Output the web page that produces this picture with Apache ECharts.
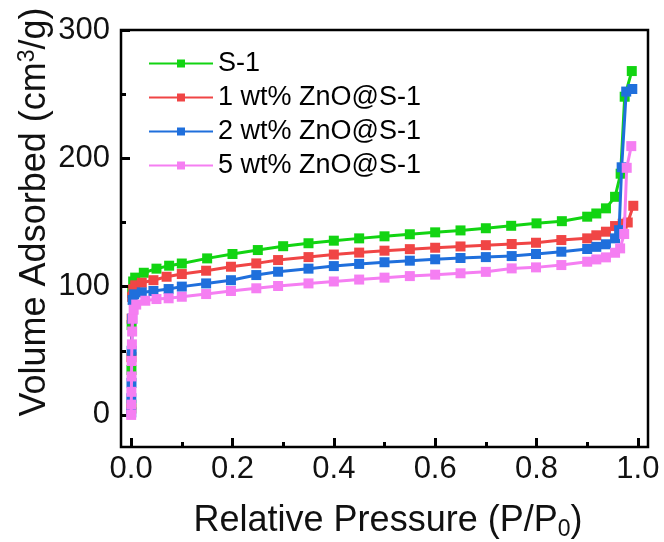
<!DOCTYPE html>
<html>
<head>
<meta charset="utf-8">
<script src="https://cdn.jsdelivr.net/npm/echarts@6/dist/echarts.min.js"></script>
<style>html,body{margin:0;padding:0;background:#fff}#c{width:664px;height:542px}</style>
</head>
<body>
<div id="c"></div>
<script>
const seriesNames = ['S-1', '1 wt% ZnO@S-1', '2 wt% ZnO@S-1', '5 wt% ZnO@S-1'];
const s1P = [0.0003,0.0006,0.001,0.002,0.004,0.008,0.025,0.05,0.075,0.1,0.15,0.2,0.25,0.3,0.35,0.4,0.45,0.5,0.55,0.6,0.65,0.7,0.75,0.8,0.85,0.9,0.918,0.937,0.955,0.966,0.974,0.988];
const s1V = [8,35,70,95,104,107,110.8,114,116.3,118,122,125.4,128.5,131.5,133.8,135.8,137.6,139.2,140.8,142.3,143.8,145.5,147.4,149.3,151,154.5,157,161,170,188,248,268];
const zn1P = [0.0003,0.0006,0.001,0.002,0.004,0.008,0.021,0.044,0.07,0.1,0.148,0.197,0.247,0.29,0.35,0.4,0.45,0.5,0.55,0.6,0.65,0.7,0.751,0.799,0.849,0.9,0.918,0.937,0.955,0.97,0.98,0.991];
const zn1V = [5,45,75,92,98,101,103,105,107.7,109.8,112.4,115.5,118.1,120.7,123,125,126.5,128,129.2,130.3,131.3,132.3,133.2,134.2,136.3,137.6,140,142.8,147.2,149,150,163];
const zn2P = [0.0002,0.0004,0.0007,0.001,0.002,0.003,0.006,0.021,0.044,0.074,0.1,0.148,0.197,0.247,0.29,0.35,0.4,0.45,0.5,0.55,0.6,0.65,0.7,0.751,0.799,0.849,0.9,0.918,0.937,0.955,0.963,0.968,0.977,0.989];
const zn2V = [2,13,25,50,75,89.6,94,95.5,96.6,98.1,100,102.5,105,109,111.6,114,116,117.7,119,120.2,121.3,122.3,123,123.8,125.4,127.2,129.3,131,133,137.6,144,193,252,254];
const zn5P = [0.0001,0.0003,0.0005,0.0008,0.001,0.0015,0.002,0.003,0.005,0.01,0.028,0.05,0.074,0.1,0.148,0.197,0.247,0.29,0.35,0.4,0.45,0.5,0.55,0.6,0.65,0.7,0.751,0.799,0.849,0.9,0.918,0.937,0.955,0.965,0.973,0.978,0.987];
const zn5V = [0,8,18,30,42,55,65,75,82,86,89,90.3,90.9,92.1,94.2,96.6,98.7,100.5,102.5,104,105.5,107,108.2,109.3,110.4,111.5,114.2,115,116.8,119.4,121.2,122.8,126.4,129.8,141,192.6,209.5];
// tick layout: [first, last, step]
const xMajorTicks = [0, 1.0, 0.2];
const xMinorTicks = [0.1, 0.9, 0.2];
const yMajorTicks = [0, 300, 100];
const yMinorTicks = [50, 250, 100];
const xMin = -0.02, xMax = 1.02, yMin = -25, yMax = 300;

const colors = ['#12d412', '#f04545', '#1f6fdc', '#f57ef2'];
const pairs = [[s1P, s1V], [zn1P, zn1V], [zn2P, zn2V], [zn5P, zn5V]];
const font = 'Liberation Sans, Arial, sans-serif';

// main plot box
const G = {left: 121, right: 16, top: 30, bottom: 95};
const W = 664 - G.left - G.right, H = 542 - G.top - G.bottom;
const px = v => G.left + W * (v - xMin) / (xMax - xMin);
const py = v => G.top + H * (yMax - v) / (yMax - yMin);
const xGrid = t => ({left: px(t[0]), right: 664 - px(t[1]), top: G.top, bottom: G.bottom, show: false});
const yGrid = t => ({left: G.left, right: G.right, top: py(t[1]), bottom: 542 - py(t[0]), show: false});

const hidden = g => ({type: 'value', gridIndex: g, show: false});
const tickAxis = (g, t, len, labels) => ({
  type: 'value', gridIndex: g, min: t[0], max: t[1], interval: t[2],
  axisLine: {show: false}, splitLine: {show: false},
  axisTick: {show: true, inside: true, length: len, lineStyle: {color: '#000', width: 3}},
  axisLabel: labels
});
const chart = echarts.init(document.getElementById('c'));
chart.setOption({
  animation: false,
  grid: [
    Object.assign({}, G, {show: true, borderColor: '#000', borderWidth: 2.5}),
    xGrid(xMajorTicks), xGrid(xMinorTicks), yGrid(yMajorTicks), yGrid(yMinorTicks)
  ],
  legend: {
    orient: 'vertical', left: 148, top: 50, itemWidth: 64, itemHeight: 10, itemGap: 7, padding: 0,
    textStyle: {fontFamily: font, fontSize: 27, color: '#000', lineHeight: 27},
    data: seriesNames
  },
  xAxis: [
    {type: 'value', gridIndex: 0, min: xMin, max: xMax, show: false},
    tickAxis(1, xMajorTicks, 9, {show: true, margin: 7, fontFamily: font, fontSize: 31, color: '#111',
      formatter: v => v.toFixed(1), showMinLabel: true, showMaxLabel: true}),
    tickAxis(2, xMinorTicks, 5, {show: false}),
    hidden(3), hidden(4)
  ],
  yAxis: [
    {type: 'value', gridIndex: 0, min: yMin, max: yMax, show: false},
    hidden(1), hidden(2),
    tickAxis(3, yMajorTicks, 9, {show: true, margin: 11, fontFamily: font, fontSize: 31, color: '#111',
      showMinLabel: true, showMaxLabel: true}),
    tickAxis(4, yMinorTicks, 5, {show: false})
  ],
  graphic: [{
    type: 'text', z: 100, x: 388, y: 521,
    style: {
      text: 'Relative Pressure (P/P{sub|0})', font: '36px ' + font, fill: '#111',
      align: 'center', verticalAlign: 'middle',
      rich: {sub: {fontSize: 23, fontFamily: font, fill: '#111', padding: [18, 0, 0, 0]}}
    }
  }, {
    type: 'text', z: 100, rotation: Math.PI / 2,
    x: 35, y: 212,
    style: {
      text: 'Volume Adsorbed (cm{sup|3}/g)', font: '36px ' + font, fill: '#111',
      align: 'center', verticalAlign: 'middle',
      rich: {sup: {fontSize: 23, fontFamily: font, fill: '#111', padding: [0, 0, 14, 0]}}
    }
  }],
  series: pairs.map((p, i) => ({
    name: seriesNames[i], type: 'line', xAxisIndex: 0, yAxisIndex: 0,
    data: p[0].map((x, j) => [x, p[1][j]]),
    symbol: 'rect', symbolSize: 10, showSymbol: true,
    lineStyle: {color: colors[i], width: 3},
    itemStyle: {color: colors[i]},
    z: 2 + i
  }))
});
</script>
</body>
</html>
